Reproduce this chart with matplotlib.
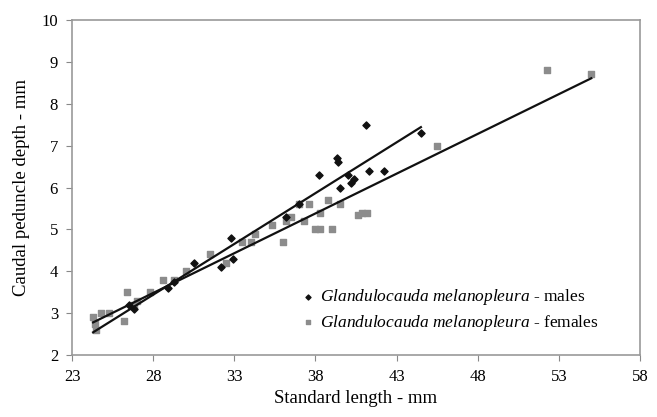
import matplotlib
matplotlib.use('Agg')
import matplotlib.pyplot as plt
import numpy as np

plt.rcParams['font.family'] = ['Liberation Serif', 'DejaVu Serif']
plt.rcParams['mathtext.fontset'] = 'custom'
plt.rcParams['mathtext.it'] = 'Liberation Serif:italic'
plt.rcParams['mathtext.rm'] = 'Liberation Serif'

# males (black diamonds)
male_sl = [26.5, 26.8, 28.9, 29.3, 30.5, 32.2, 32.8, 32.9, 36.2, 37.0,
           38.2, 39.3, 39.4, 39.5, 40.0, 40.2, 40.4, 41.1, 41.3, 42.2, 44.5]
male_cpd = [3.2, 3.1, 3.6, 3.75, 4.2, 4.1, 4.8, 4.3, 5.3, 5.6,
            6.3, 6.7, 6.6, 6.0, 6.3, 6.1, 6.2, 7.5, 6.4, 6.4, 7.3]

# females (grey squares)
female_sl = [24.3, 24.5, 24.4, 24.8, 25.3, 26.2, 26.4, 26.8, 27.0, 27.8,
             28.6, 29.3, 30.0, 31.5, 32.5, 33.5, 34.0, 34.3, 35.3, 36.0,
             36.2, 36.5, 37.0, 37.3, 37.6, 38.0, 38.3, 38.3, 38.8, 39.0,
             39.5, 40.6, 40.9, 41.2, 45.5, 52.3, 55.0]
female_cpd = [2.9, 2.6, 2.75, 3.0, 3.0, 2.8, 3.5, 3.2, 3.3, 3.5,
              3.8, 3.8, 4.0, 4.4, 4.2, 4.7, 4.7, 4.9, 5.1, 4.7,
              5.2, 5.3, 5.6, 5.2, 5.6, 5.0, 5.0, 5.4, 5.7, 5.0,
              5.6, 5.35, 5.4, 5.4, 7.0, 8.8, 8.7]

xticks = [23, 28, 33, 38, 43, 48, 53, 58]
yticks = [2, 3, 4, 5, 6, 7, 8, 9, 10]

fig = plt.figure(figsize=(6.57, 4.17), dpi=100)
ax = fig.add_axes([0.1096, 0.1487, 0.8645, 0.8033])

ax.scatter(male_sl, male_cpd, marker='D', s=13, c='#111111', zorder=3,
           label='$\\it{Glandulocauda\\ melanopleura}$ - males')
ax.scatter(female_sl, female_cpd, marker='s', s=16, c='#8c8c8c', zorder=2,
           label='$\\it{Glandulocauda\\ melanopleura}$ - females')

# linear trend lines
m = np.polyfit(male_sl, male_cpd, 1)
xm = np.array([min(female_sl), max(male_sl)])
ax.plot(xm, np.polyval(m, xm), c='#111111', lw=1.6, zorder=4)
f = np.polyfit(female_sl, female_cpd, 1)
xf = np.array([min(female_sl), max(female_sl)])
ax.plot(xf, np.polyval(f, xf), c='#111111', lw=1.6, zorder=4)

ax.set_xlim(23, 58)
ax.set_ylim(2, 10)
ax.set_xticks(xticks)
ax.set_yticks(yticks)
ax.tick_params(direction='out', length=4, color='#888888', labelsize=12,
               pad=6)
for s in ax.spines.values():
    s.set_color('#999999')
    s.set_linewidth(1.2)

ax.set_xlabel('Standard length - mm', fontsize=13.5, labelpad=4)
ax.set_ylabel('Caudal peduncle depth - mm', fontsize=13.5, labelpad=8)

ax.legend(loc='lower right', bbox_to_anchor=(0.955, 0.02), frameon=False,
          fontsize=12.5, handletextpad=0.1, markerscale=0.7,
          labelspacing=0.3, handlelength=1.2)

fig.savefig('out.png', dpi=100)
